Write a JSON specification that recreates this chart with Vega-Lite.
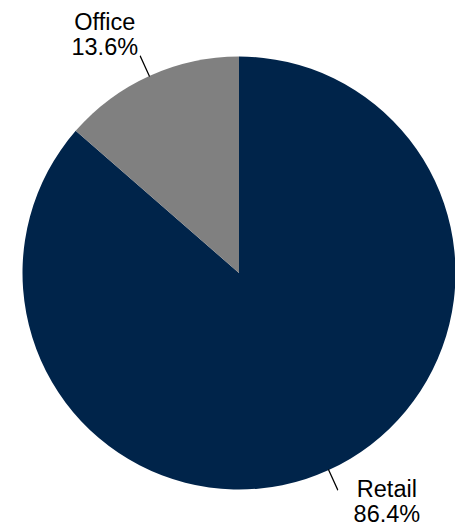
{
  "$schema": "https://vega.github.io/schema/vega-lite/v6.json",
  "width": 432,
  "height": 510,
  "autosize": {"type": "none"},
  "padding": {"left": 23, "top": 18, "right": 0, "bottom": 0},
  "background": "white",
  "config": {"view": {"stroke": null}},
  "datasets": {
    "slices": [
      {"category": "Retail", "share": 86.4, "start": 0, "end": 86.4},
      {"category": "Office", "share": 13.6, "start": 86.4, "end": 100}
    ],
    "labels": [
      {"category": "Office", "label": "Office\n13.6%", "angle": 91.82},
      {"category": "Retail", "label": "Retail\n86.4%", "angle": 40.89}
    ],
    "leaders": [
      {"category": "Office", "a0": 93.2, "a1": 93.2001},
      {"category": "Retail", "a0": 43.2, "a1": 43.2001}
    ]
  },
  "layer": [
    {
      "data": {"name": "slices"},
      "mark": {"type": "arc", "outerRadius": 216.5, "stroke": null},
      "encoding": {
        "theta": {"field": "start", "type": "quantitative", "scale": {"domain": [0, 100], "range": [0, 6.283185307]}, "stack": null},
        "theta2": {"field": "end"},
        "color": {"field": "category", "type": "nominal", "scale": {"domain": ["Retail", "Office"], "range": ["#00244A", "#808080"]}, "legend": null}
      }
    },
    {
      "data": {"name": "leaders"},
      "mark": {"type": "arc", "innerRadius": 216.5, "outerRadius": 238, "fill": null, "stroke": "black", "strokeWidth": 1.2, "filled": false},
      "encoding": {
        "theta": {"field": "a0", "type": "quantitative", "scale": {"domain": [0, 100], "range": [0, 6.283185307]}, "stack": null},
        "theta2": {"field": "a1"}
      }
    },
    {
      "data": {"name": "labels"},
      "mark": {"type": "text", "radius": 273, "dy": -12.75, "font": "Liberation Sans", "fontSize": 23.5, "lineHeight": 25.5, "lineBreak": "\n", "align": "center", "baseline": "middle", "color": "black"},
      "encoding": {
        "theta": {"field": "angle", "type": "quantitative", "scale": {"domain": [0, 100], "range": [0, 6.283185307]}, "stack": null},
        "text": {"field": "label"}
      }
    }
  ],
  "resolve": {"scale": {"theta": "shared"}}
}
